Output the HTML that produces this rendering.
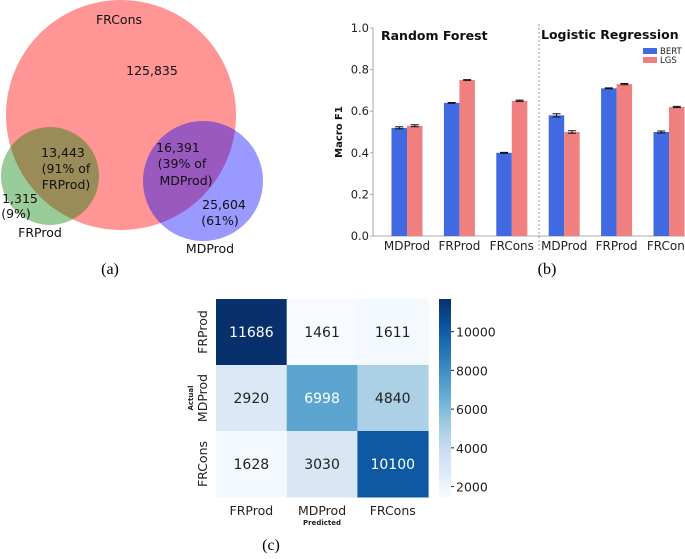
<!DOCTYPE html>
<html><head><meta charset="utf-8"><style>
body{margin:0;background:#fff;width:685px;height:554px;overflow:hidden}
svg{font-family:"DejaVu Sans","Liberation Sans",sans-serif}
</style></head><body>
<svg width="685" height="554" viewBox="0 0 685 554">
<g font-size="12.5" fill="#111" text-anchor="middle">
<circle cx="121" cy="115" r="115" fill="rgba(255,20,20,0.45)"/>
<circle cx="50" cy="176" r="49" fill="rgba(0,128,0,0.4)"/>
<circle cx="203" cy="181" r="60" fill="rgba(0,0,255,0.4)"/>
<text x="119" y="24">FRCons</text>
<text x="152" y="75">125,835</text>
<text x="63" y="157">13,443</text>
<text x="66" y="173">(91% of</text>
<text x="66" y="189">FRProd)</text>
<text x="20" y="203">1,315</text>
<text x="16" y="218">(9%)</text>
<text x="40" y="237">FRProd</text>
<text x="178" y="152">16,391</text>
<text x="182" y="168">(39% of</text>
<text x="186" y="185">MDProd)</text>
<text x="224" y="209">25,604</text>
<text x="220" y="225">(61%)</text>
<text x="210" y="253">MDProd</text>
</g>
<text x="110" y="274" font-family="Liberation Serif,serif" font-size="16" text-anchor="middle">(a)</text>
<g id="bar"></g>
<text x="547" y="274" font-family="Liberation Serif,serif" font-size="16" text-anchor="middle">(b)</text>
<g id="heat"></g>
<text x="271" y="550" font-family="Liberation Serif,serif" font-size="16" text-anchor="middle">(c)</text>
</svg>
<script>
const NS="http://www.w3.org/2000/svg";
function mk(p,t,a,txt){const e=document.createElementNS(NS,t);for(const k in a)e.setAttribute(k,a[k]);if(txt!==undefined)e.textContent=txt;p.appendChild(e);return e;}
// Bar chart data
const barCategories=["MDProd","FRProd","FRCons","MDProd","FRProd","FRCons"];
const bertValues=[0.52,0.64,0.40,0.58,0.71,0.50];
const lgsValues=[0.53,0.75,0.65,0.50,0.73,0.62];
const bertErr=[0.005,0.002,0.002,0.008,0.002,0.005];
const lgsErr=[0.005,0.002,0.003,0.006,0.003,0.003];
const yTicks=[0.0,0.2,0.4,0.6,0.8,1.0];
// Heatmap data
const heatRows=["FRProd","MDProd","FRCons"];
const heatCols=["FRProd","MDProd","FRCons"];
const heatValues=[[11686,1461,1611],[2920,6998,4840],[1628,3030,10100]];
const cbarTicks=[2000,4000,6000,8000,10000];

(function(){
const g=document.getElementById('bar');
const x0=373,x1=685,yTop=28,yBot=236;
const y=v=>yBot-(v/1.0)*(yBot-yTop);
const centers=[407,460,512,564,617,669];
const xc=i=>centers[0]+i*((centers[5]-centers[0])/5);
const bw=15.5;
let e=mk(g,'line',{x1:x0,x2:x0,y1:yTop,y2:yBot,stroke:'#aaa','stroke-width':1});

e=mk(g,'line',{x1:x0,x2:x1,y1:yBot,y2:yBot,stroke:'#aaa','stroke-width':1});

yTicks.forEach(t=>{
 let l=mk(g,'line',{x1:x0-3,x2:x0,y1:y(t),y2:y(t),stroke:'#aaa'});
 
 let tx=mk(g,'text',{x:x0-4,y:y(t)+4,'font-size':11.5,'text-anchor':'end',fill:'#222'},t.toFixed(1));
 
});
let yt=mk(g,'text',{x:342,y:132,'font-size':10,'font-weight':'bold','text-anchor':'middle',transform:'rotate(-90 342 132)',fill:'#111'},'Macro F1');

let dv=mk(g,'line',{x1:539,x2:539,y1:yTop-4,y2:252,stroke:'#999','stroke-dasharray':'2,2'});

let t1=mk(g,'text',{x:381,y:40,'font-size':12.5,'font-weight':'bold',fill:'#111'},'Random Forest');

let t2=mk(g,'text',{x:541,y:39,'font-size':12.5,'font-weight':'bold',fill:'#111'},'Logistic Regression');

barCategories.forEach((c,i)=>{
 const cx=xc(i);
 [[bertValues,bertErr,'#4169e1',cx-bw,'bar-bert'],[lgsValues,lgsErr,'#f08080',cx,'bar-lgs']].forEach(([vals,errs,col,bx,nm])=>{
  let r=mk(g,'rect',{x:bx,y:y(vals[i]),width:bw,height:yBot-y(vals[i]),fill:col});
  
  const mx=bx+bw/2,e1=y(vals[i]+errs[i]),e2=y(vals[i]-errs[i]);
  let eb=mk(g,'path',{d:`M${mx},${e1}V${e2}M${mx-4},${e1}H${mx+4}M${mx-4},${e2}H${mx+4}`,stroke:'#111','stroke-width':1,fill:'none'});
  
 });
 let tl=mk(g,'text',{x:cx,y:250,'font-size':12,'text-anchor':'middle',fill:'#222'},c);
 
});
let lg=mk(g,'g',{});

let l1=mk(lg,'rect',{x:643,y:48,width:14,height:6,fill:'#4169e1'});

let l2=mk(lg,'text',{x:660,y:54,'font-size':8.5,fill:'#222'},'BERT');

let l3=mk(lg,'rect',{x:643,y:57,width:14,height:6,fill:'#f08080'});

let l4=mk(lg,'text',{x:660,y:63,'font-size':8.5,fill:'#222'},'LGS');

})();

(function(){
const g=document.getElementById('heat');
const hx=216,hy=299,cw=70.7,ch=66;
const all=heatValues.flat();const vmin=Math.min(...all),vmax=Math.max(...all);
const stops=[[247,251,255],[222,235,247],[198,219,239],[158,202,225],[107,174,214],[66,146,198],[33,113,181],[8,81,156],[8,48,107]];
function col(v){let t=(v-vmin)/(vmax-vmin);t=Math.max(0,Math.min(1,t));const p=t*(stops.length-1),i=Math.min(Math.floor(p),stops.length-2),f=p-i;const c=stops[i].map((a,k)=>Math.round(a+(stops[i+1][k]-a)*f));return `rgb(${c})`;}
heatValues.forEach((row,r)=>row.forEach((v,c)=>{
 let rc=mk(g,'rect',{x:hx+c*cw,y:hy+r*ch,width:cw+0.5,height:ch+0.5,fill:col(v)});
 
 const t=(v-vmin)/(vmax-vmin);
 let tx=mk(g,'text',{x:hx+c*cw+cw/2,y:hy+r*ch+ch/2+5,'font-size':14,'text-anchor':'middle',fill:t>0.5?'#fff':'#222'},String(v));
 
}));
heatCols.forEach((c,i)=>{
 let t=mk(g,'text',{x:hx+i*cw+cw/2,y:515,'font-size':12.5,'text-anchor':'middle',fill:'#222'},c);
 
});
heatRows.forEach((c,i)=>{
 const yy=hy+i*ch+ch/2,xx=207;
 let t=mk(g,'text',{x:xx,y:yy,'font-size':12.5,'text-anchor':'middle',transform:`rotate(-90 ${xx} ${yy})`,fill:'#222'},c);
 
});
let px=mk(g,'text',{x:hx+1.5*cw,y:525,'font-size':7,'font-weight':'bold','text-anchor':'middle',fill:'#222'},'Predicted');

let py=mk(g,'text',{x:193,y:398,'font-size':7,'font-weight':'bold','text-anchor':'middle',transform:'rotate(-90 193 398)',fill:'#222'},'Actual');

const cbx=439,cbw=12,cbTop=299,cbBot=497;
const defs=mk(g,'defs',{});const lgd=mk(defs,'linearGradient',{id:'cbg',x1:0,y1:1,x2:0,y2:0});
stops.forEach((s,i)=>mk(lgd,'stop',{offset:i/(stops.length-1),'stop-color':`rgb(${s})`}));
let cb=mk(g,'rect',{x:cbx,y:cbTop,width:cbw,height:cbBot-cbTop,fill:'url(#cbg)'});

const cy=v=>cbBot-(v-vmin)/(vmax-vmin)*(cbBot-cbTop);
cbarTicks.forEach(v=>{
 let l=mk(g,'line',{x1:cbx+cbw,x2:cbx+cbw+3,y1:cy(v),y2:cy(v),stroke:'#222'});
 
 let t=mk(g,'text',{x:cbx+cbw+5,y:cy(v)+5,'font-size':12.5,fill:'#222'},String(v));
 
});
})();
</script>
</body></html>
